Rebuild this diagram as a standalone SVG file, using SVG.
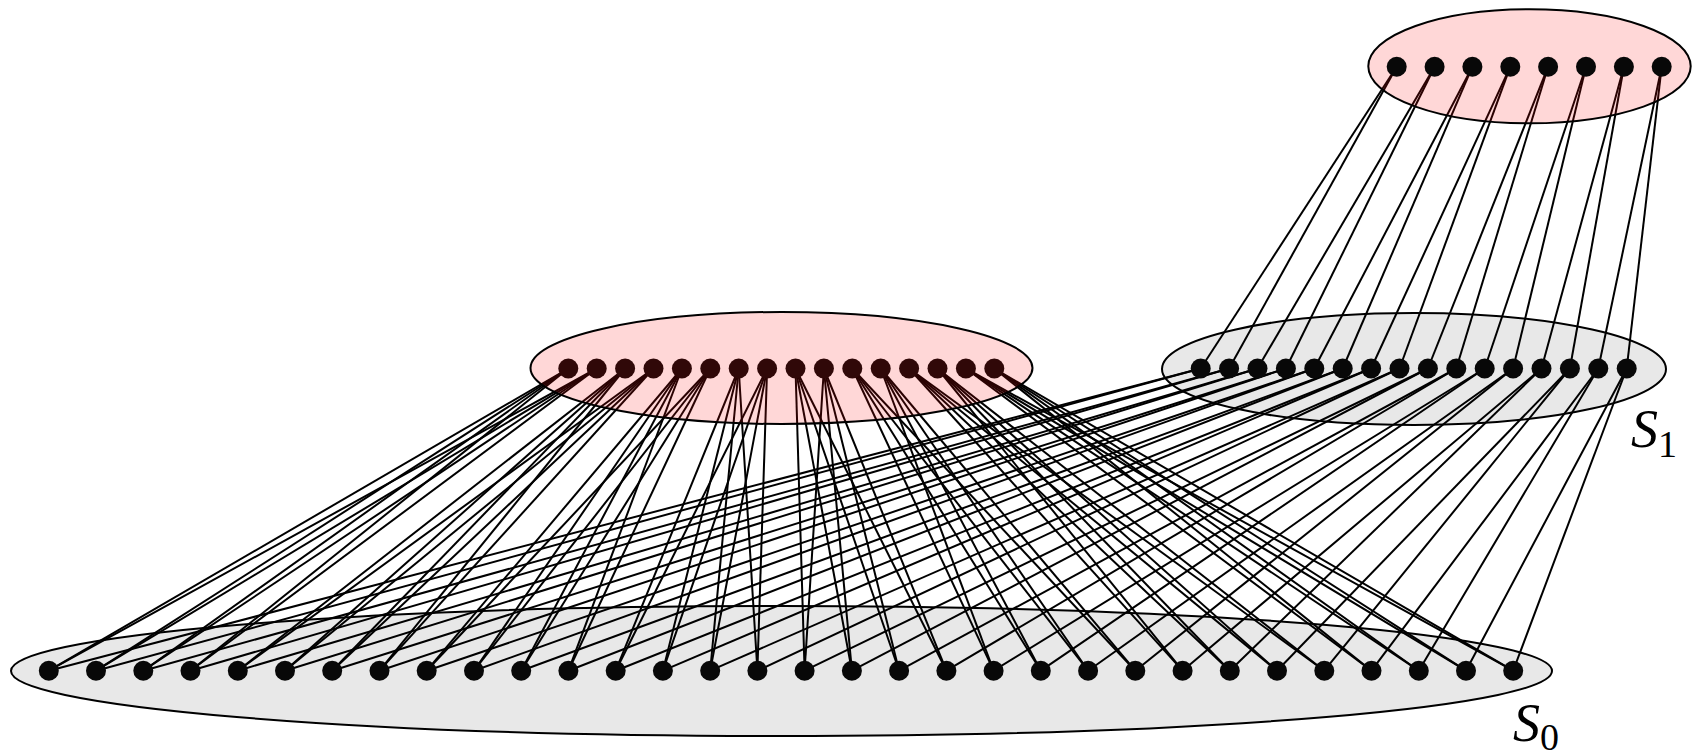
<svg xmlns="http://www.w3.org/2000/svg" width="1701" height="756" viewBox="0 0 1701 756">
<style>
.set{fill:#e8e8e8;stroke:#000;stroke-width:2}
.pink{fill:#ff0c0c;fill-opacity:0.165;stroke:#000;stroke-width:2}
.dot{fill:#080808}
#connectors line{stroke:#000;stroke-width:2}
.lbl{font-family:"Liberation Serif","DejaVu Serif",serif;fill:#000}
</style>
<rect width="1701" height="756" fill="#fff"/>
<g id="set-S0-region"><ellipse class="set" cx="781.5" cy="671" rx="770.5" ry="65"/></g>
<g id="set-S1-region"><ellipse class="set" cx="1414" cy="369" rx="252" ry="56"/></g>
<g id="connectors">
<line x1="1396.7" y1="66.7" x2="1200.7" y2="368.5"/><line x1="1396.7" y1="66.7" x2="1229.1" y2="368.5"/>
<line x1="1434.6" y1="66.7" x2="1257.5" y2="368.5"/><line x1="1434.6" y1="66.7" x2="1285.9" y2="368.5"/>
<line x1="1472.4" y1="66.7" x2="1314.3" y2="368.5"/><line x1="1472.4" y1="66.7" x2="1342.7" y2="368.5"/>
<line x1="1510.3" y1="66.7" x2="1371.1" y2="368.5"/><line x1="1510.3" y1="66.7" x2="1399.5" y2="368.5"/>
<line x1="1548.1" y1="66.7" x2="1427.9" y2="368.5"/><line x1="1548.1" y1="66.7" x2="1456.3" y2="368.5"/>
<line x1="1586.0" y1="66.7" x2="1484.7" y2="368.5"/><line x1="1586.0" y1="66.7" x2="1513.1" y2="368.5"/>
<line x1="1623.9" y1="66.7" x2="1541.5" y2="368.5"/><line x1="1623.9" y1="66.7" x2="1569.9" y2="368.5"/>
<line x1="1661.7" y1="66.7" x2="1598.3" y2="368.5"/><line x1="1661.7" y1="66.7" x2="1626.7" y2="368.5"/>

<line x1="1200.7" y1="368.5" x2="48.8" y2="670.7"/><line x1="1200.7" y1="368.5" x2="96.0" y2="670.7"/>
<line x1="1229.1" y1="368.5" x2="143.3" y2="670.7"/><line x1="1229.1" y1="368.5" x2="190.5" y2="670.7"/>
<line x1="1257.5" y1="368.5" x2="237.8" y2="670.7"/><line x1="1257.5" y1="368.5" x2="285.0" y2="670.7"/>
<line x1="1285.9" y1="368.5" x2="332.2" y2="670.7"/><line x1="1285.9" y1="368.5" x2="379.5" y2="670.7"/>
<line x1="1314.3" y1="368.5" x2="426.7" y2="670.7"/><line x1="1314.3" y1="368.5" x2="474.0" y2="670.7"/>
<line x1="1342.7" y1="368.5" x2="521.2" y2="670.7"/><line x1="1342.7" y1="368.5" x2="568.4" y2="670.7"/>
<line x1="1371.1" y1="368.5" x2="615.7" y2="670.7"/><line x1="1371.1" y1="368.5" x2="662.9" y2="670.7"/>
<line x1="1399.5" y1="368.5" x2="710.2" y2="670.7"/><line x1="1399.5" y1="368.5" x2="757.4" y2="670.7"/>
<line x1="1427.9" y1="368.5" x2="804.6" y2="670.7"/><line x1="1427.9" y1="368.5" x2="851.9" y2="670.7"/>
<line x1="1456.3" y1="368.5" x2="899.1" y2="670.7"/><line x1="1456.3" y1="368.5" x2="946.4" y2="670.7"/>
<line x1="1484.7" y1="368.5" x2="993.6" y2="670.7"/><line x1="1484.7" y1="368.5" x2="1040.8" y2="670.7"/>
<line x1="1513.1" y1="368.5" x2="1088.1" y2="670.7"/><line x1="1513.1" y1="368.5" x2="1135.3" y2="670.7"/>
<line x1="1541.5" y1="368.5" x2="1182.6" y2="670.7"/><line x1="1541.5" y1="368.5" x2="1229.8" y2="670.7"/>
<line x1="1569.9" y1="368.5" x2="1277.0" y2="670.7"/><line x1="1569.9" y1="368.5" x2="1324.3" y2="670.7"/>
<line x1="1598.3" y1="368.5" x2="1371.5" y2="670.7"/><line x1="1598.3" y1="368.5" x2="1418.8" y2="670.7"/>
<line x1="1626.7" y1="368.5" x2="1466.0" y2="670.7"/><line x1="1626.7" y1="368.5" x2="1513.2" y2="670.7"/>

<line x1="568.3" y1="368.5" x2="48.8" y2="670.7"/><line x1="568.3" y1="368.5" x2="96.0" y2="670.7"/><line x1="568.3" y1="368.5" x2="143.3" y2="670.7"/><line x1="568.3" y1="368.5" x2="190.5" y2="670.7"/>
<line x1="596.7" y1="368.5" x2="48.8" y2="670.7"/><line x1="596.7" y1="368.5" x2="96.0" y2="670.7"/><line x1="596.7" y1="368.5" x2="143.3" y2="670.7"/><line x1="596.7" y1="368.5" x2="190.5" y2="670.7"/>
<line x1="625.1" y1="368.5" x2="237.8" y2="670.7"/><line x1="625.1" y1="368.5" x2="285.0" y2="670.7"/><line x1="625.1" y1="368.5" x2="332.2" y2="670.7"/><line x1="625.1" y1="368.5" x2="379.5" y2="670.7"/>
<line x1="653.5" y1="368.5" x2="237.8" y2="670.7"/><line x1="653.5" y1="368.5" x2="285.0" y2="670.7"/><line x1="653.5" y1="368.5" x2="332.2" y2="670.7"/><line x1="653.5" y1="368.5" x2="379.5" y2="670.7"/>
<line x1="681.9" y1="368.5" x2="426.7" y2="670.7"/><line x1="681.9" y1="368.5" x2="474.0" y2="670.7"/><line x1="681.9" y1="368.5" x2="521.2" y2="670.7"/><line x1="681.9" y1="368.5" x2="568.4" y2="670.7"/>
<line x1="710.3" y1="368.5" x2="426.7" y2="670.7"/><line x1="710.3" y1="368.5" x2="474.0" y2="670.7"/><line x1="710.3" y1="368.5" x2="521.2" y2="670.7"/><line x1="710.3" y1="368.5" x2="568.4" y2="670.7"/>
<line x1="738.7" y1="368.5" x2="615.7" y2="670.7"/><line x1="738.7" y1="368.5" x2="662.9" y2="670.7"/><line x1="738.7" y1="368.5" x2="710.2" y2="670.7"/><line x1="738.7" y1="368.5" x2="757.4" y2="670.7"/>
<line x1="767.1" y1="368.5" x2="615.7" y2="670.7"/><line x1="767.1" y1="368.5" x2="662.9" y2="670.7"/><line x1="767.1" y1="368.5" x2="710.2" y2="670.7"/><line x1="767.1" y1="368.5" x2="757.4" y2="670.7"/>
<line x1="795.5" y1="368.5" x2="804.6" y2="670.7"/><line x1="795.5" y1="368.5" x2="851.9" y2="670.7"/><line x1="795.5" y1="368.5" x2="899.1" y2="670.7"/><line x1="795.5" y1="368.5" x2="946.4" y2="670.7"/>
<line x1="823.9" y1="368.5" x2="804.6" y2="670.7"/><line x1="823.9" y1="368.5" x2="851.9" y2="670.7"/><line x1="823.9" y1="368.5" x2="899.1" y2="670.7"/><line x1="823.9" y1="368.5" x2="946.4" y2="670.7"/>
<line x1="852.3" y1="368.5" x2="993.6" y2="670.7"/><line x1="852.3" y1="368.5" x2="1040.8" y2="670.7"/><line x1="852.3" y1="368.5" x2="1088.1" y2="670.7"/><line x1="852.3" y1="368.5" x2="1135.3" y2="670.7"/>
<line x1="880.7" y1="368.5" x2="993.6" y2="670.7"/><line x1="880.7" y1="368.5" x2="1040.8" y2="670.7"/><line x1="880.7" y1="368.5" x2="1088.1" y2="670.7"/><line x1="880.7" y1="368.5" x2="1135.3" y2="670.7"/>
<line x1="909.1" y1="368.5" x2="1182.6" y2="670.7"/><line x1="909.1" y1="368.5" x2="1229.8" y2="670.7"/><line x1="909.1" y1="368.5" x2="1277.0" y2="670.7"/><line x1="909.1" y1="368.5" x2="1324.3" y2="670.7"/>
<line x1="937.5" y1="368.5" x2="1182.6" y2="670.7"/><line x1="937.5" y1="368.5" x2="1229.8" y2="670.7"/><line x1="937.5" y1="368.5" x2="1277.0" y2="670.7"/><line x1="937.5" y1="368.5" x2="1324.3" y2="670.7"/>
<line x1="965.9" y1="368.5" x2="1371.5" y2="670.7"/><line x1="965.9" y1="368.5" x2="1418.8" y2="670.7"/><line x1="965.9" y1="368.5" x2="1466.0" y2="670.7"/><line x1="965.9" y1="368.5" x2="1513.2" y2="670.7"/>
<line x1="994.3" y1="368.5" x2="1371.5" y2="670.7"/><line x1="994.3" y1="368.5" x2="1418.8" y2="670.7"/><line x1="994.3" y1="368.5" x2="1466.0" y2="670.7"/><line x1="994.3" y1="368.5" x2="1513.2" y2="670.7"/>
</g>
<g id="S0">
<circle class="dot" cx="48.8" cy="670.7" r="10"/><circle class="dot" cx="96.0" cy="670.7" r="10"/><circle class="dot" cx="143.3" cy="670.7" r="10"/><circle class="dot" cx="190.5" cy="670.7" r="10"/>
<circle class="dot" cx="237.8" cy="670.7" r="10"/><circle class="dot" cx="285.0" cy="670.7" r="10"/><circle class="dot" cx="332.2" cy="670.7" r="10"/><circle class="dot" cx="379.5" cy="670.7" r="10"/>
<circle class="dot" cx="426.7" cy="670.7" r="10"/><circle class="dot" cx="474.0" cy="670.7" r="10"/><circle class="dot" cx="521.2" cy="670.7" r="10"/><circle class="dot" cx="568.4" cy="670.7" r="10"/>
<circle class="dot" cx="615.7" cy="670.7" r="10"/><circle class="dot" cx="662.9" cy="670.7" r="10"/><circle class="dot" cx="710.2" cy="670.7" r="10"/><circle class="dot" cx="757.4" cy="670.7" r="10"/>
<circle class="dot" cx="804.6" cy="670.7" r="10"/><circle class="dot" cx="851.9" cy="670.7" r="10"/><circle class="dot" cx="899.1" cy="670.7" r="10"/><circle class="dot" cx="946.4" cy="670.7" r="10"/>
<circle class="dot" cx="993.6" cy="670.7" r="10"/><circle class="dot" cx="1040.8" cy="670.7" r="10"/><circle class="dot" cx="1088.1" cy="670.7" r="10"/><circle class="dot" cx="1135.3" cy="670.7" r="10"/>
<circle class="dot" cx="1182.6" cy="670.7" r="10"/><circle class="dot" cx="1229.8" cy="670.7" r="10"/><circle class="dot" cx="1277.0" cy="670.7" r="10"/><circle class="dot" cx="1324.3" cy="670.7" r="10"/>
<circle class="dot" cx="1371.5" cy="670.7" r="10"/><circle class="dot" cx="1418.8" cy="670.7" r="10"/><circle class="dot" cx="1466.0" cy="670.7" r="10"/><circle class="dot" cx="1513.2" cy="670.7" r="10"/>
</g>
<g id="S1">
<circle class="dot" cx="1200.7" cy="368.5" r="10"/><circle class="dot" cx="1229.1" cy="368.5" r="10"/><circle class="dot" cx="1257.5" cy="368.5" r="10"/><circle class="dot" cx="1285.9" cy="368.5" r="10"/>
<circle class="dot" cx="1314.3" cy="368.5" r="10"/><circle class="dot" cx="1342.7" cy="368.5" r="10"/><circle class="dot" cx="1371.1" cy="368.5" r="10"/><circle class="dot" cx="1399.5" cy="368.5" r="10"/>
<circle class="dot" cx="1427.9" cy="368.5" r="10"/><circle class="dot" cx="1456.3" cy="368.5" r="10"/><circle class="dot" cx="1484.7" cy="368.5" r="10"/><circle class="dot" cx="1513.1" cy="368.5" r="10"/>
<circle class="dot" cx="1541.5" cy="368.5" r="10"/><circle class="dot" cx="1569.9" cy="368.5" r="10"/><circle class="dot" cx="1598.3" cy="368.5" r="10"/><circle class="dot" cx="1626.7" cy="368.5" r="10"/>
</g>
<g id="middle-set">
<circle class="dot" cx="568.3" cy="368.5" r="10"/><circle class="dot" cx="596.7" cy="368.5" r="10"/><circle class="dot" cx="625.1" cy="368.5" r="10"/><circle class="dot" cx="653.5" cy="368.5" r="10"/>
<circle class="dot" cx="681.9" cy="368.5" r="10"/><circle class="dot" cx="710.3" cy="368.5" r="10"/><circle class="dot" cx="738.7" cy="368.5" r="10"/><circle class="dot" cx="767.1" cy="368.5" r="10"/>
<circle class="dot" cx="795.5" cy="368.5" r="10"/><circle class="dot" cx="823.9" cy="368.5" r="10"/><circle class="dot" cx="852.3" cy="368.5" r="10"/><circle class="dot" cx="880.7" cy="368.5" r="10"/>
<circle class="dot" cx="909.1" cy="368.5" r="10"/><circle class="dot" cx="937.5" cy="368.5" r="10"/><circle class="dot" cx="965.9" cy="368.5" r="10"/><circle class="dot" cx="994.3" cy="368.5" r="10"/>
<ellipse class="pink" cx="781.5" cy="368" rx="251" ry="56"/>
</g>
<g id="top-set">
<ellipse class="pink" cx="1529.5" cy="66.3" rx="161.2" ry="57"/>
<circle class="dot" cx="1396.7" cy="66.7" r="10"/><circle class="dot" cx="1434.6" cy="66.7" r="10"/><circle class="dot" cx="1472.4" cy="66.7" r="10"/><circle class="dot" cx="1510.3" cy="66.7" r="10"/>
<circle class="dot" cx="1548.1" cy="66.7" r="10"/><circle class="dot" cx="1586.0" cy="66.7" r="10"/><circle class="dot" cx="1623.9" cy="66.7" r="10"/><circle class="dot" cx="1661.7" cy="66.7" r="10"/>
</g>
<g id="labels">
<text class="lbl" x="1631" y="447" font-size="54"><tspan font-style="italic">S</tspan><tspan font-size="38" dy="10">1</tspan></text>
<text class="lbl" x="1513" y="741" font-size="54"><tspan font-style="italic">S</tspan><tspan font-size="38" dy="9">0</tspan></text>
</g>
</svg>
